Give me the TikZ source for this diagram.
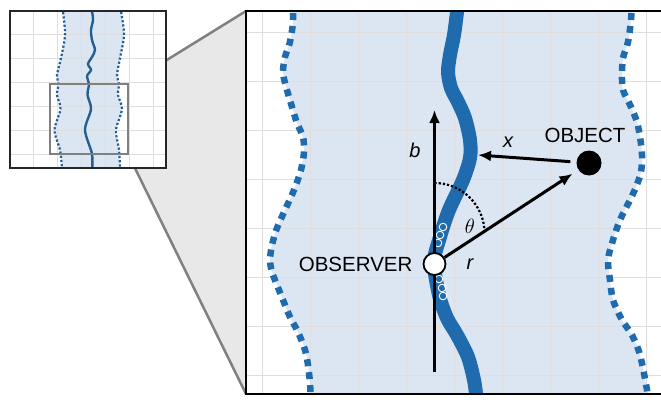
\documentclass[tikz,border=0pt]{standalone}
\usepackage{fontspec}
\setmainfont{Liberation Sans}
\usepackage{xcolor}
\usepackage{tikz}
\usetikzlibrary{arrows.meta,positioning}
\definecolor{trackblue}{HTML}{1F6BAE}
\definecolor{bandblue}{HTML}{DCE6F2}
\definecolor{darktrack}{HTML}{245F91}

\begin{document}
\begin{tikzpicture}[
    x=1pt, y=-1pt,
    band/.style={fill=bandblue},
    gridline/.style={draw=black!13, line width=0.8pt},
    edge/.style={draw=trackblue, line width=6.5pt, dash pattern=on 7pt off 6pt},
    track/.style={draw=trackblue, line width=14pt},
    smalledge/.style={draw=darktrack, line width=2.2pt, dash pattern=on 2.2pt off 2pt},
    smalltrack/.style={draw=darktrack, line width=2.4pt},
    frame/.style={draw=black!50, line width=2.5pt},
    line/.style={draw, -{Latex[length=13pt,width=11pt]}, line width=3pt},
    bubble/.style={circle, draw=white, line width=0.9pt, minimum size=7.6pt, inner sep=0pt},
    tag/.style={font=\fontsize{20.5}{24}\selectfont, inner sep=2pt},
    var/.style={font=\fontsize{20}{24}\selectfont\itshape, inner sep=1pt}
]
    \useasboundingbox (0,0) rectangle (661,399);

    % --- Zoom window and its projection ---
    \coordinate (zoomNW) at (50,84);
    \coordinate (zoomNE) at (128,84);
    \coordinate (zoomSE) at (128,154);
    \coordinate (bigNW) at (246,11);
    \coordinate (bigSW) at (246,394);
    \fill[black!9] (zoomNE) -- (bigNW) -- (bigSW) -- (zoomSE) -- cycle;
    \draw[frame] (zoomNE) -- (bigNW) (zoomSE) -- (bigSW);

    % --- Overview ---
    \fill[white] (10,11) rectangle (166,168);
    \begin{scope}
        \clip (10,11) rectangle (166,168);
        \fill[band] plot[smooth] coordinates {(63,8) (63,11) (65,35) (61,58) (57,75) (58.5,84) (57,95) (60.5,109) (54.5,130) (60,150) (62,168) (62,172)}
            -- plot[smooth] coordinates {(120,172) (120,168) (119,150) (116,130) (122,109) (118,95) (119,84) (117,75) (120,58) (124,35) (121,11) (120,8)} -- cycle;
        \foreach \gx in {33,57,81,105,129,153}
            \draw[gridline] (\gx,11) -- (\gx,168);
        \foreach \gy in {34,58,82,106,130,154}
            \draw[gridline] (10,\gy) -- (166,\gy);
        \draw[smalledge] plot[smooth] coordinates {(63,8) (63,11) (65,35) (61,58) (57,75) (58.5,84) (57,95) (60.5,109) (54.5,130) (60,150) (62,168) (62,172)};
        \draw[smalledge] plot[smooth] coordinates {(120,8) (121,11) (124,35) (120,58) (117,75) (119,84) (118,95) (122,109) (116,130) (119,150) (120,168) (120,172)};
        \draw[smalltrack] plot[smooth] coordinates {(92,8) (92,11) (93,20) (91,30) (92,40) (95,50) (92,57) (88,64) (91,70) (87,76) (89,84) (87.5,95) (91,109) (85,130) (92,154) (92,172)};
    \end{scope}
    \draw[line width=1.5pt, black!85] (10,11) rectangle (166,168);
    \draw[frame] (zoomNW) rectangle (zoomSE);

    % --- Zoomed view ---
    \fill[white] (bigNW) rectangle (663,394);
    \begin{scope}
        \clip (bigNW) rectangle (663,394);
        \fill[band] plot[smooth] coordinates {(293,0) (293,22) (290,42) (285,57) (283,73) (287,90) (292,107) (297,123) (303,137) (304,152) (301,170) (294,190) (285,210) (277,228) (272,245) (270,260) (272,272) (277,285) (283,300) (290,317) (298,332) (305,350) (308,365) (310,383) (311,405)}
            -- plot[smooth] coordinates {(648,405) (647,390) (640,355) (632,335) (622,320) (613,300) (610,280) (608,260) (613,240) (620,220) (630,200) (636,187) (641,172) (642,155) (640,137) (637,122) (631,107) (623,90) (622,75) (623,58) (628,42) (631,20) (632,0)} -- cycle;
        \foreach \gx in {262,310,...,646}
            \draw[gridline] (\gx,11) -- (\gx,394);
        \foreach \gy in {32,81,...,375}
            \draw[gridline] (246,\gy) -- (663,\gy);
        \draw[edge] plot[smooth] coordinates {(293,0) (293,22) (290,42) (285,57) (283,73) (287,90) (292,107) (297,123) (303,137) (304,152) (301,170) (294,190) (285,210) (277,228) (272,245) (270,260) (272,272) (277,285) (283,300) (290,317) (298,332) (305,350) (308,365) (310,383) (311,405)};
        \draw[edge] plot[smooth] coordinates {(632,0) (631,20) (628,42) (623,58) (622,75) (623,90) (631,107) (637,122) (640,137) (642,155) (641,172) (636,187) (630,200) (620,220) (613,240) (608,260) (610,280) (613,300) (622,320) (632,335) (640,355) (647,390) (648,405)};
        \draw[track] plot[smooth] coordinates {(458,0) (457,12) (454,35) (450,55) (448,72) (451,88) (458,102) (465,118) (470,140) (470,158) (463,180) (449,210) (440,237) (434,262) (439,295) (447,318) (457,335) (468,357) (474,380) (476,394) (477,405)};
    \end{scope}
    \draw[line width=2.2pt] (663,11) -- (bigNW) -- (bigSW) -- (663,394);

    % Samples along the track
    \foreach \bx/\by [count=\i] in {443/227, 440/235, 438/243, 439/279, 442/288, 443/296}
        \node[bubble] (bubble\i) at (\bx,\by) {};

    % Nodes
    \coordinate (btail) at (434.5,372);
    \coordinate (bhead) at (434.5,110);
    \coordinate (xfoot) at (478,155);
    \node[circle, fill=black, minimum size=25pt, inner sep=0pt] (object) at (589,163) {};
    \node[tag, above=5pt of object, xshift=-4pt] (objlabel) {OBJECT};

    % Paths
    \path[line] (btail) -- (bhead);
    \draw[dotted, line width=2.2pt] (434.5,183) arc[start angle=-90, end angle=0, radius=50];
    \node[circle, draw, fill=white, line width=1.8pt, minimum size=22pt, inner sep=0pt] (observer) at (434.5,264) {};
    \node[tag, left=8pt of observer] (obslabel) {OBSERVER};
    \path[line, shorten <=6pt] (object) -- (xfoot);
    \path[line, shorten >=7pt] (observer) -- (object);

    % Labels
    \node[var] (blabel) at (415,150) {b};
    \node[var] (xlabel) at (508,142) {x};
    \node[var] (rlabel) at (470,264) {r};
    \node[font=\fontsize{20}{24}\selectfont] (thetalabel) at (470,226) {$\theta$};

\end{tikzpicture}
\end{document}
